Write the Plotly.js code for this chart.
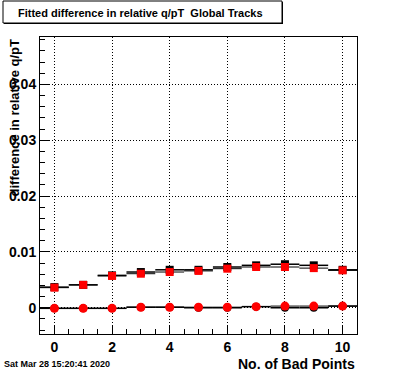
<!DOCTYPE html>
<html>
<head>
<meta charset="utf-8">
<script src="https://cdn.plot.ly/plotly-3.0.1.min.js"></script>
<style>
  html, body { margin: 0; padding: 0; background: #ffffff; }
  #chart { width: 396px; height: 372px; }
</style>
</head>
<body>
<div id="chart"></div>
<script>
// ---- data ----
const badPoints = [0, 1, 2, 3, 4, 5, 6, 7, 8, 9, 10];
const fitBlack  = [0.0037, 0.0041, 0.0058, 0.0064, 0.0068, 0.0068, 0.0073, 0.0076, 0.0078, 0.0076, 0.0068];
const fitRed    = [0.0036, 0.0041, 0.0057, 0.0061, 0.0064, 0.0066, 0.0070, 0.0073, 0.0073, 0.0071, 0.0067];
const meanBlack = [-0.0001, -0.0001, -0.0001, 0.0001, 0.0001, 0.0000, 0.0000, 0.0002, 0.0000, 0.0000, 0.0003];
const meanRed   = [-0.0001, -0.0001, -0.0001, 0.0001, 0.0001, 0.0001, 0.0001, 0.0002, 0.0003, 0.0003, 0.0003];
const xTickVals = [0, 2, 4, 6, 8, 10];
const xTickText = ['0', '2', '4', '6', '8', '10'];
const yTickVals = [0, 0.01, 0.02, 0.03, 0.04];
const yTickText = ['0', '0.01', '0.02', '0.03', '0.04'];
const titleText = 'Fitted difference in relative q/pT \u00a0Global Tracks';
const yTitleText = 'difference in relative q/pT';
const xTitleText = 'No. of Bad Points';
const dateText = 'Sat Mar 28 15:20:41 2020';

// ---- layout geometry ----
const W = 396, H = 372;
const L = 40, R = 357, T = 37, B = 334;
const px = x => (x - L) / (R - L);
const py = y => (B - y) / (B - T);
const FONT = 'Liberation Sans, Arial, Helvetica, sans-serif';

const errBar = (th) => ({ type: 'constant', value: 0.5, width: 0, thickness: th, color: '#000000' });

const traces = [
  { x: badPoints, y: fitBlack, type: 'scatter', mode: 'markers',
    marker: { symbol: 'square', size: 8, color: '#000000' }, error_x: errBar(1.5), hoverinfo: 'skip' },
  { x: badPoints, y: meanBlack, type: 'scatter', mode: 'markers',
    marker: { symbol: 'circle', size: 8, color: '#000000' }, error_x: errBar(1.5), hoverinfo: 'skip' },
  { x: badPoints, y: fitRed, type: 'scatter', mode: 'markers',
    marker: { symbol: 'square', size: 8, color: '#ff0000' }, error_x: errBar(1), hoverinfo: 'skip' },
  { x: badPoints, y: meanRed, type: 'scatter', mode: 'markers',
    marker: { symbol: 'circle', size: 9, color: '#ff0000' }, error_x: errBar(1), hoverinfo: 'skip' }
];

const axisCommon = {
  showline: true, mirror: true, linecolor: '#000000', linewidth: 1,
  showgrid: true, gridcolor: '#000000', gridwidth: 1, griddash: '1px,2px',
  zeroline: false, ticks: 'inside', tickcolor: '#000000', tickwidth: 1,
  tickfont: { family: FONT, size: 14, color: '#000000', weight: 'bold' },
  fixedrange: true
};

const layout = {
  width: W, height: H,
  paper_bgcolor: '#ffffff', plot_bgcolor: '#ffffff',
  showlegend: false,
  margin: { l: L, r: W - R, t: T, b: H - B, pad: 0, autoexpand: false },
  xaxis: Object.assign({}, axisCommon, {
    range: [-0.5, 10.5], tickmode: 'array', tickvals: xTickVals, ticktext: xTickText,
    ticklen: 9,
    minor: { dtick: 0.5, tick0: 0, ticks: 'inside', ticklen: 5, tickcolor: '#000000', tickwidth: 1, showgrid: false }
  }),
  yaxis: Object.assign({}, axisCommon, {
    range: [-0.0047, 0.0485], tickmode: 'array', tickvals: yTickVals, ticktext: yTickText,
    ticklen: 10,
    minor: { dtick: 0.002, tick0: 0, ticks: 'inside', ticklen: 5, tickcolor: '#000000', tickwidth: 1, showgrid: false }
  }),
  shapes: [
    { type: 'rect', xref: 'paper', yref: 'paper', layer: 'above',
      x0: px(4), x1: px(283), y0: py(24), y1: py(2),
      line: { width: 0 }, fillcolor: '#000000' },
    { type: 'rect', xref: 'paper', yref: 'paper', layer: 'above',
      x0: px(3), x1: px(282), y0: py(23), y1: py(1),
      line: { width: 1, color: '#000000' }, fillcolor: '#ffffff' }
  ],
  annotations: [
    { text: titleText, xref: 'paper', yref: 'paper', x: px(16), y: py(12.5),
      xanchor: 'left', yanchor: 'middle', showarrow: false,
      font: { family: FONT, size: 11, color: '#000000', weight: 'bold' } },
    { text: yTitleText, xref: 'paper', yref: 'paper', x: px(13.5), y: py(37),
      xanchor: 'center', yanchor: 'top', textangle: -90, showarrow: false,
      font: { family: FONT, size: 13, color: '#000000', weight: 'bold' } },
    { text: xTitleText, xref: 'paper', yref: 'paper', x: px(357), y: py(364),
      xanchor: 'right', yanchor: 'middle', showarrow: false,
      font: { family: FONT, size: 14, color: '#000000', weight: 'bold' } },
    { text: dateText, xref: 'paper', yref: 'paper', x: px(2), y: py(364),
      xanchor: 'left', yanchor: 'middle', showarrow: false,
      font: { family: FONT, size: 9, color: '#000000', weight: 'bold' } }
  ]
};

Plotly.newPlot('chart', traces, layout, { staticPlot: true, displayModeBar: false });
</script>
</body>
</html>
